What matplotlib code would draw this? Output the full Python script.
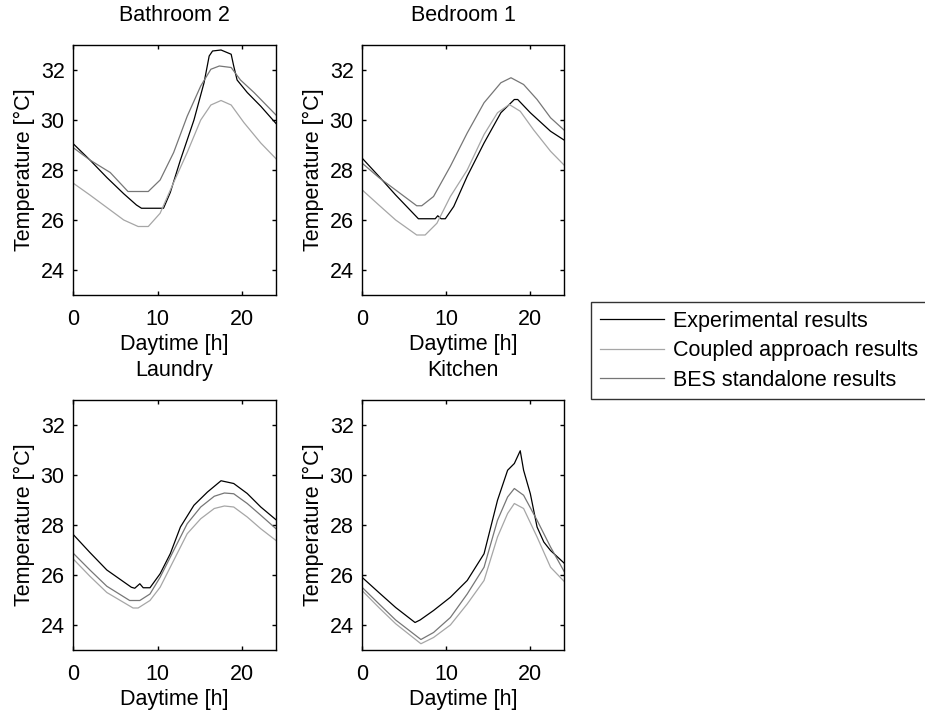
import numpy as np
import matplotlib
matplotlib.use("Agg")
import matplotlib.pyplot as plt

plt.rcParams['font.family'] = ['Liberation Sans', 'DejaVu Sans']

# Data =========================================================================
titles = ["Bathroom 2", "Bedroom 1", "Laundry", "Kitchen"]
labels = ["Experimental results", "Coupled approach results", "BES standalone results"]

bath_t_exp = [0, 2, 4, 6, 7.5, 8.1, 10.7, 11.5, 12.7, 14.3, 15.5, 16.1, 16.5, 17.5, 18.7, 19.0, 19.4, 20.6, 22.2, 24]
bath_exp = [29.06, 28.4, 27.7, 27.05, 26.6, 26.47, 26.47, 27.1, 28.4, 30.0, 31.5, 32.56, 32.76, 32.8, 32.63, 32.16, 31.6, 31.1, 30.55, 29.86]
bath_t_cpl = [0, 2, 4, 6, 7.7, 8.9, 10.3, 11.9, 13.5, 15.1, 16.3, 17.5, 18.7, 20.2, 22.2, 24]
bath_cpl = [27.48, 27.0, 26.5, 26.0, 25.74, 25.74, 26.27, 27.5, 28.7, 30.0, 30.6, 30.78, 30.6, 29.9, 29.08, 28.45]
bath_t_bes = [0, 2, 4.4, 6.5, 8.9, 10.3, 11.9, 13.5, 15.1, 16.3, 17.3, 18.7, 19.8, 21.4, 24]
bath_bes = [28.9, 28.4, 27.9, 27.14, 27.14, 27.6, 28.7, 30.15, 31.36, 32.03, 32.16, 32.1, 31.6, 31.1, 30.2]

bed_t_exp = [0, 2, 4, 6.7, 8.7, 9.0, 9.4, 9.9, 10.9, 12.5, 14.5, 16.5, 18.1, 18.5, 20, 22.4, 24]
bed_exp = [28.48, 27.75, 27.0, 26.05, 26.05, 26.17, 26.05, 26.05, 26.54, 27.75, 29.08, 30.29, 30.82, 30.82, 30.29, 29.55, 29.2]
bed_t_cpl = [0, 2, 4, 6.5, 7.5, 8.9, 10.5, 12.5, 14.5, 16.1, 17.5, 18.8, 20.4, 22.4, 24]
bed_cpl = [27.21, 26.6, 26.0, 25.4, 25.4, 25.87, 26.94, 28.0, 29.42, 30.29, 30.62, 30.35, 29.6, 28.75, 28.2]
bed_t_bes = [0, 2, 4, 6.5, 7.1, 8.5, 10.5, 12.5, 14.5, 16.5, 17.7, 19.2, 20.8, 22.4, 24]
bed_bes = [28.28, 27.7, 27.2, 26.57, 26.57, 26.94, 28.15, 29.48, 30.69, 31.49, 31.69, 31.42, 30.82, 30.09, 29.6]

lau_t_exp = [0, 2, 4, 6.9, 7.3, 7.9, 8.3, 9.1, 10.3, 11.5, 12.7, 14.3, 15.9, 17.5, 19, 20.6, 22.2, 24]
lau_exp = [27.63, 26.9, 26.2, 25.51, 25.47, 25.65, 25.49, 25.49, 26.05, 26.85, 27.92, 28.79, 29.32, 29.77, 29.66, 29.26, 28.72, 28.21]
lau_t_cpl = [0, 2, 4, 7.1, 7.7, 9.1, 10.3, 11.9, 13.5, 15.1, 16.7, 17.9, 19, 20.6, 22.2, 24]
lau_cpl = [26.65, 25.95, 25.3, 24.68, 24.68, 24.98, 25.51, 26.58, 27.65, 28.25, 28.66, 28.76, 28.72, 28.32, 27.85, 27.38]
lau_t_bes = [0, 2, 4, 6.7, 7.9, 9.1, 10.3, 11.9, 13.5, 15.1, 16.7, 17.9, 19, 20.6, 22.2, 24]
lau_bes = [26.88, 26.2, 25.55, 24.98, 24.98, 25.24, 25.91, 26.98, 28.05, 28.72, 29.15, 29.28, 29.25, 28.86, 28.39, 27.85]

kit_t_exp = [0, 2, 4, 6.3, 6.9, 8.5, 10.5, 12.5, 14.5, 16.1, 17.3, 18.1, 18.8, 19.2, 20, 20.8, 21.6, 22.4, 24]
kit_exp = [25.91, 25.3, 24.7, 24.1, 24.2, 24.58, 25.11, 25.78, 26.85, 28.99, 30.19, 30.46, 30.97, 30.19, 29.25, 27.92, 27.32, 26.98, 26.48]
kit_t_cpl = [0, 2, 4, 7, 8.5, 10.5, 12.5, 14.5, 16.1, 17.3, 18.1, 19.2, 20.8, 22.4, 24]
kit_cpl = [25.38, 24.7, 24.05, 23.25, 23.5, 24.0, 24.84, 25.78, 27.52, 28.46, 28.86, 28.66, 27.52, 26.31, 25.75]
kit_t_bes = [0, 2, 4, 7, 8.5, 10.5, 12.5, 14.5, 16.1, 17.3, 18.1, 19.2, 20.8, 22.4, 24]
kit_bes = [25.51, 24.85, 24.2, 23.42, 23.7, 24.3, 25.24, 26.31, 28.19, 29.12, 29.46, 29.19, 28.19, 27.12, 26.15]

rooms = [
    (bath_t_exp, bath_exp, bath_t_cpl, bath_cpl, bath_t_bes, bath_bes),
    (bed_t_exp, bed_exp, bed_t_cpl, bed_cpl, bed_t_bes, bed_bes),
    (lau_t_exp, lau_exp, lau_t_cpl, lau_cpl, lau_t_bes, lau_bes),
    (kit_t_exp, kit_exp, kit_t_cpl, kit_cpl, kit_t_bes, kit_bes),
]

# Plot =========================================================================
W, H = 925, 710
fig = plt.figure(figsize=(W/100, H/100), dpi=100)

boxes = [(73, 45, 276, 295), (362, 45, 564, 295), (73, 400, 276, 650), (362, 400, 564, 650)]
c_exp, c_cpl, c_bes = "#000000", "#a6a6a6", "#767676"
fs = 15.5

handles = None
for (x0, y0, x1, y1), title, r in zip(boxes, titles, rooms):
    ax = fig.add_axes([x0/W, 1 - y1/H, (x1 - x0)/W, (y1 - y0)/H])
    h1, = ax.plot(r[0], r[1], color=c_exp, lw=0.9)
    h2, = ax.plot(r[2], r[3], color=c_cpl, lw=0.9)
    h3, = ax.plot(r[4], r[5], color=c_bes, lw=0.9)
    handles = [h1, h2, h3]
    ax.set_xlim(0, 24)
    ax.set_ylim(23, 33)
    ax.set_xticks([0, 10, 20])
    ax.set_yticks([24, 26, 28, 30, 32])
    ax.tick_params(direction="in", length=3, width=1, top=True, right=True,
                   labelsize=fs, pad=6)
    ax.tick_params(axis="x", pad=10)
    for s in ax.spines.values():
        s.set_linewidth(1.0)
    ax.set_title(title, fontsize=fs, pad=17)
    ax.set_xlabel("Daytime [h]", fontsize=fs, labelpad=3)
    ax.set_ylabel("Temperature [°C]", fontsize=fs, labelpad=4)

leg = fig.legend(handles, labels, loc="upper left", bbox_to_anchor=(591/W, 1 - 302/H),
                 fontsize=fs, frameon=True, fancybox=False, edgecolor="black",
                 handlelength=3.0, handletextpad=0.4, labelspacing=0.4,
                 borderpad=0.4, borderaxespad=0)
leg.get_frame().set_linewidth(1.0)

plt.savefig("out.png", dpi=100)
